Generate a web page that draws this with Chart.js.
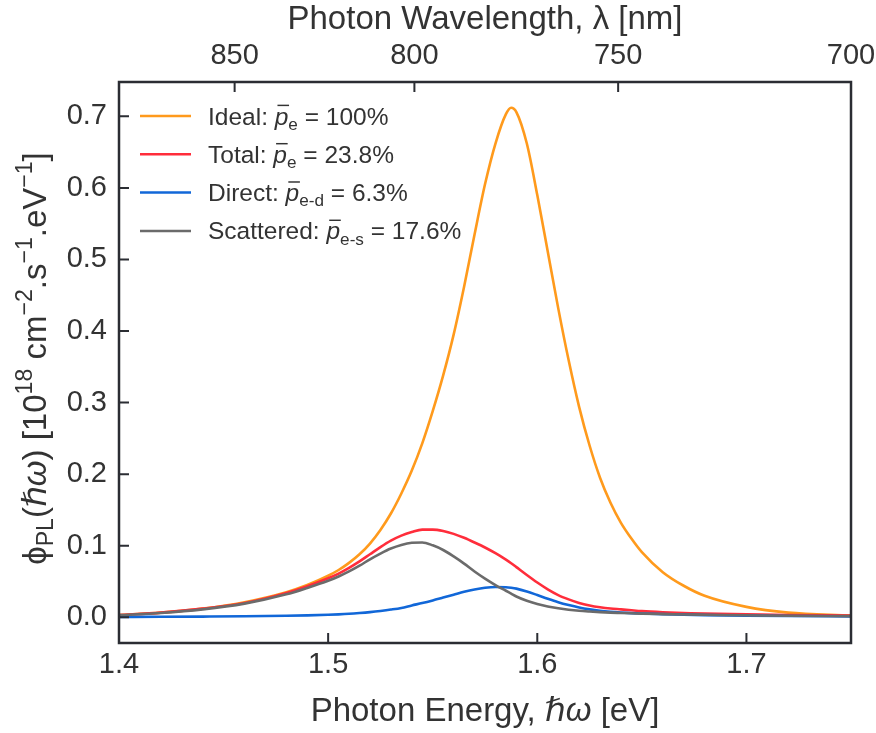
<!DOCTYPE html>
<html>
<head>
<meta charset="utf-8">
<script src="https://cdn.jsdelivr.net/npm/chart.js@4.4.1/dist/chart.umd.min.js"></script>
<style>
  body { margin: 0; background: #fff; }
  #wrap { width: 876px; height: 733px; position: relative; }
</style>
</head>
<body>
<div id="wrap"><canvas id="myChart"></canvas></div>
<script>
// photon energy grid [eV]
const energies = [1.40, 1.42, 1.44, 1.46, 1.48, 1.49, 1.50, 1.505, 1.51, 1.515, 1.52, 1.525, 1.53, 1.535, 1.54, 1.545,
    1.55, 1.555, 1.56, 1.565, 1.57, 1.575, 1.58, 1.585, 1.5875, 1.59, 1.595, 1.60, 1.605, 1.61, 1.615, 1.62, 1.625,
    1.63, 1.635, 1.64, 1.645, 1.65, 1.66, 1.67, 1.68, 1.70, 1.72, 1.75];

const ideal = [0.003, 0.0065, 0.012, 0.021, 0.035, 0.045, 0.058, 0.066, 0.076, 0.088, 0.103, 0.122, 0.145, 0.173, 0.205, 0.243,
    0.288, 0.338, 0.395, 0.462, 0.535, 0.605, 0.662, 0.703, 0.712, 0.706, 0.662, 0.590, 0.511, 0.432, 0.359, 0.294, 0.240,
    0.195, 0.160, 0.132, 0.110, 0.091, 0.063, 0.044, 0.030, 0.0145, 0.0065, 0.0025];

const total = [0.003, 0.0065, 0.012, 0.020, 0.034, 0.0435, 0.0545, 0.061, 0.069, 0.078, 0.088, 0.098, 0.107, 0.114, 0.119, 0.1225,
    0.1225, 0.1205, 0.1165, 0.111, 0.1045, 0.0975, 0.0895, 0.0805, 0.0755, 0.070, 0.059, 0.0485, 0.039, 0.031, 0.025, 0.020, 0.0165,
    0.014, 0.0122, 0.011, 0.0097, 0.0085, 0.007, 0.006, 0.005, 0.004, 0.003, 0.0025];

const direct = [0.0004, 0.0006, 0.0009, 0.0013, 0.002, 0.0026, 0.0034, 0.004, 0.0048, 0.0059, 0.0072, 0.0088, 0.0107, 0.013, 0.0165, 0.0198,
    0.0235, 0.0275, 0.0315, 0.0355, 0.0388, 0.0412, 0.0423, 0.042, 0.0412, 0.040, 0.036, 0.031, 0.0258, 0.021, 0.017, 0.0136, 0.011,
    0.009, 0.0076, 0.0066, 0.0058, 0.0052, 0.0043, 0.0036, 0.003, 0.0022, 0.0017, 0.0012];

const scattered = [0.003, 0.006, 0.011, 0.019, 0.032, 0.041, 0.051, 0.057, 0.064, 0.072, 0.081, 0.089, 0.096, 0.101, 0.104, 0.1045,
    0.1005, 0.094, 0.085, 0.075, 0.064, 0.054, 0.045, 0.037, 0.033, 0.029, 0.023, 0.0185, 0.015, 0.0125, 0.0105, 0.009, 0.008,
    0.0072, 0.0065, 0.006, 0.0055, 0.005, 0.0044, 0.0039, 0.0035, 0.0027, 0.002, 0.0015];

const seriesNames = ['Ideal', 'Total', 'Direct', 'Scattered'];
const seriesSubs = ['e', 'e', 'e-d', 'e-s'];
const seriesPercents = ['100%', '23.8%', '6.3%', '17.6%'];
const seriesColors = ['#ff9a1c', '#ff2d3b', '#1167d8', '#6b6b6b'];

const energyTicks = [1.4, 1.5, 1.6, 1.7];
const fluxTicks = [0.0, 0.1, 0.2, 0.3, 0.4, 0.5, 0.6, 0.7];
const wavelengthTicks = [850, 800, 750, 700];

const HC = 1239.84; // eV nm
const FONT = '"Liberation Sans", Arial, "DejaVu Sans", sans-serif';
const INK = '#2b2d33';

function pts(vals) {
    return energies.map((e, i) => ({ x: e, y: vals[i] }));
}

// draws a run of text pieces (italic / sub / sup / overline)
function drawRich(ctx, segs, x, y, size, align) {
    var parts = segs.map(function (s) {
        var sz = (s.sub || s.sup) ? size * 0.7 : size;
        var f = (s.italic ? 'italic ' : '') + sz + 'px ' + FONT;
        ctx.font = f;
        return { s: s, f: f, w: ctx.measureText(s.t).width, sz: sz };
    });
    var total = parts.reduce((a, p) => a + p.w, 0);
    var cx = align === 'center' ? x - total / 2 : x;
    ctx.textBaseline = 'alphabetic';
    ctx.textAlign = 'left';
    parts.forEach(function (p) {
        var dy = 0;
        if (p.s.sub) dy = size * 0.22;
        if (p.s.sup) dy = -size * 0.42;
        ctx.font = p.f;
        ctx.fillText(p.s.t, cx, y + dy);
        if (p.s.over) {
            ctx.save();
            ctx.lineWidth = size * 0.06;
            ctx.strokeStyle = ctx.fillStyle;
            ctx.beginPath();
            ctx.moveTo(cx + p.w * 0.2, y - size * 0.78);
            ctx.lineTo(cx + p.w * 1.05, y - size * 0.78);
            ctx.stroke();
            ctx.restore();
        }
        cx += p.w;
    });
    return total;
}

function noSidePad(s) {
    s.paddingLeft = 0;
    s.paddingRight = 0;
}

const decorPlugin = {
    id: 'decor',
    afterDatasetsDraw(chart) {
        const ctx = chart.ctx;
        const a = chart.chartArea;
        const sx = chart.scales.x, sy = chart.scales.y, st = chart.scales.x2;
        ctx.save();
        ctx.strokeStyle = INK;
        ctx.lineWidth = 2;
        ctx.beginPath();
        energyTicks.forEach(v => {
            const px = sx.getPixelForValue(v);
            ctx.moveTo(px, a.bottom); ctx.lineTo(px, a.bottom - 10);
        });
        wavelengthTicks.forEach(w => {
            const px = st.getPixelForValue(HC / w);
            ctx.moveTo(px, a.top); ctx.lineTo(px, a.top + 10);
        });
        fluxTicks.forEach(v => {
            const py = sy.getPixelForValue(v);
            ctx.moveTo(a.left, py); ctx.lineTo(a.left + 10, py);
        });
        ctx.stroke();
        ctx.lineWidth = 2.5;
        ctx.strokeRect(a.left, a.top, a.right - a.left, a.bottom - a.top);
        ctx.restore();
    },
    afterDraw(chart) {
        const ctx = chart.ctx;
        const a = chart.chartArea;
        ctx.save();
        ctx.fillStyle = '#333';
        // axis titles
        drawRich(ctx, [{ t: 'Photon Energy, ' }, { t: 'ℏω', italic: true }, { t: ' [eV]' }],
            (a.left + a.right) / 2, 721, 33, 'center');
        drawRich(ctx, [{ t: 'Photon Wavelength, λ [nm]' }], (a.left + a.right) / 2, 29, 33, 'center');
        ctx.save();
        ctx.translate(46, (a.top + a.bottom) / 2 - 4);
        ctx.rotate(-Math.PI / 2);
        drawRich(ctx, [{ t: 'ϕ' }, { t: 'PL', sub: true }, { t: '(' }, { t: 'ℏω', italic: true }, { t: ') [10' },
            { t: '18', sup: true }, { t: ' cm' }, { t: '−2', sup: true }, { t: '.s' }, { t: '−1', sup: true },
            { t: '.eV' }, { t: '−1', sup: true }, { t: ']' }], 0, 0, 33, 'center');
        ctx.restore();
        // legend
        seriesNames.forEach((name, i) => {
            const y = 116 + i * 38.3;
            ctx.strokeStyle = seriesColors[i];
            ctx.lineWidth = 2.5;
            ctx.beginPath();
            ctx.moveTo(a.left + 21, y); ctx.lineTo(a.left + 72, y);
            ctx.stroke();
            drawRich(ctx, [{ t: name + ': ' }, { t: 'p', italic: true, over: true }, { t: seriesSubs[i], sub: true },
                { t: ' = ' + seriesPercents[i] }], a.left + 89, y + 8.5, 24.5, 'left');
        });
        ctx.restore();
    }
};

const data = {
    datasets: [
        { label: seriesNames[0], data: pts(ideal), borderColor: seriesColors[0], order: 4 },
        { label: seriesNames[1], data: pts(total), borderColor: seriesColors[1], order: 3 },
        { label: seriesNames[2], data: pts(direct), borderColor: seriesColors[2], order: 2 },
        { label: seriesNames[3], data: pts(scattered), borderColor: seriesColors[3], order: 1 }
    ]
};

const tickFont = { family: FONT, size: 29 };

const config = {
    type: 'line',
    data: data,
    options: {
        responsive: true,
        maintainAspectRatio: false,
        animation: false,
        layout: { padding: { left: 0, right: 25, top: 0, bottom: 0 } },
        elements: {
            line: { borderWidth: 2.6, cubicInterpolationMode: 'monotone', fill: false },
            point: { radius: 0 }
        },
        plugins: {
            legend: { display: false },
            tooltip: { enabled: false }
        },
        scales: {
            x: {
                type: 'linear', position: 'bottom', min: 1.4, max: 1.75,
                grid: { display: false, drawTicks: false }, border: { display: false },
                afterBuildTicks: s => { s.ticks = energyTicks.map(v => ({ value: v })); },
                afterFit: s => { s.height = 90; noSidePad(s); },
                ticks: { color: '#333', font: tickFont, padding: 5, maxRotation: 0, callback: v => v.toFixed(1) }
            },
            x2: {
                type: 'linear', position: 'top', min: 1.4, max: HC / 700,
                grid: { display: false, drawTicks: false }, border: { display: false },
                afterBuildTicks: s => { s.ticks = wavelengthTicks.map(w => ({ value: HC / w })); },
                afterFit: s => { s.height = 82; noSidePad(s); },
                ticks: { color: '#333', font: tickFont, padding: 9, maxRotation: 0, callback: v => Math.round(HC / v) }
            },
            y: {
                min: -0.036, max: 0.748,
                grid: { display: false, drawTicks: false }, border: { display: false },
                afterBuildTicks: s => { s.ticks = fluxTicks.map(v => ({ value: v })); },
                afterFit: s => { s.width = 119; },
                ticks: { color: '#333', font: tickFont, padding: 12, callback: v => v.toFixed(1) }
            }
        }
    },
    plugins: [decorPlugin]
};

var myChart = new Chart(document.getElementById('myChart'), config);
</script>
</body>
</html>
